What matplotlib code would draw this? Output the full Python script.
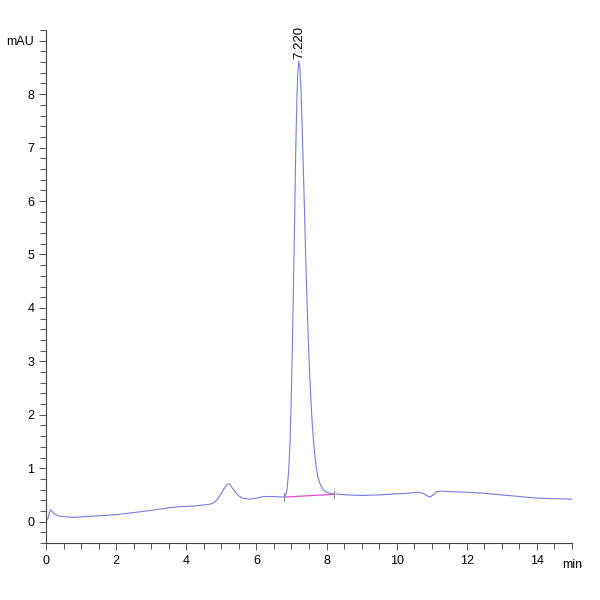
import matplotlib
matplotlib.use("Agg")
import matplotlib.pyplot as plt
import numpy as np

plt.rcParams['font.family'] = ['Liberation Sans Narrow', 'Liberation Sans', 'DejaVu Sans']

# chromatogram trace (min, mAU)
time_min = [0.0, 0.04, 0.08, 0.12, 0.16, 0.22, 0.3, 0.4, 0.55, 0.8, 1.0, 1.5, 2.0, 2.5,
            3.0, 3.5, 3.8, 4.2, 4.6, 4.7, 4.8, 4.9, 5.0, 5.1, 5.15, 5.2, 5.25, 5.3,
            5.4, 5.5, 5.6, 5.7, 5.8, 6.0, 6.2, 6.5, 6.75, 6.8, 6.85, 6.88, 6.92,
            6.96, 7.0, 7.03, 7.06, 7.09, 7.12, 7.15, 7.18, 7.21, 7.24, 7.27, 7.3,
            7.33, 7.36, 7.4, 7.44, 7.48, 7.52, 7.56, 7.6, 7.65, 7.7, 7.75, 7.8,
            7.9, 8.0, 8.1, 8.2, 8.6, 9.0, 9.5, 10.0, 10.3, 10.6, 10.75, 10.85,
            10.95, 11.05, 11.15, 11.25, 11.6, 12.0, 12.5, 13.0, 13.5, 14.0, 14.5,
            15.0]
mau = [0.02, 0.04, 0.14, 0.22, 0.2, 0.15, 0.12, 0.1, 0.09, 0.08, 0.09, 0.11, 0.13, 0.17,
       0.21, 0.26, 0.28, 0.29, 0.32, 0.33, 0.36, 0.43, 0.53, 0.64, 0.69, 0.71, 0.69, 0.64,
       0.55, 0.48, 0.44, 0.43, 0.42, 0.44, 0.47, 0.47, 0.46, 0.47, 0.52, 0.65, 0.95,
       1.5, 2.5, 3.4, 4.5, 5.7, 6.9, 7.8, 8.4, 8.62, 8.5, 8.1, 7.5,
       6.8, 6.1, 5.1, 4.2, 3.4, 2.75, 2.2, 1.75, 1.35, 1.05, 0.85, 0.73,
       0.6, 0.55, 0.53, 0.52, 0.5, 0.49, 0.5, 0.52, 0.53, 0.55, 0.53, 0.49,
       0.46, 0.5, 0.56, 0.57, 0.56, 0.55, 0.53, 0.5, 0.47, 0.44, 0.43,
       0.42]

# integration baseline of the main peak
base_t = [6.8, 8.2]
base_v = [0.46, 0.51]
peak_rt = 7.22
peak_h = 8.62
peak_label = "7.220"

fig = plt.figure(figsize=(6, 6), dpi=100)
ax = fig.add_axes([0.077, 0.095, 0.876, 0.855])

ax.plot(time_min, mau, color='#7b7be6', lw=0.8)
ax.plot(base_t, base_v, color='#e050d8', lw=0.9)
for t, v in zip(base_t, base_v):
    ax.plot([t, t], [v - 0.07, v + 0.07], color='#888888', lw=0.7)
ax.text(peak_rt, peak_h + 0.03, peak_label, rotation=90, ha='center', va='bottom',
        fontsize=9.5)

ax.set_xlim(0, 15)
ax.set_ylim(-0.4, 9.2)
for s in ['top', 'right']:
    ax.spines[s].set_visible(False)
for s in ['left', 'bottom']:
    ax.spines[s].set_color('#444444')
    ax.spines[s].set_linewidth(0.8)

ax.set_xticks(np.arange(0, 16, 2))
ax.set_xticklabels([str(v) for v in range(0, 16, 2)])
ax.set_xticks(np.arange(0, 15.01, 0.5), minor=True)
ax.set_yticks(np.arange(0, 10, 1))
ax.set_yticklabels([str(v) for v in range(0, 9)] + ['mAU'])
ax.set_yticks(np.arange(-0.4, 9.21, 0.2), minor=True)
ax.tick_params(which='major', length=5, width=0.7, color='#555555', labelsize=9)
ax.tick_params(which='minor', length=4, width=0.7, color='#555555')
ax.text(15, -0.4 - 0.3, 'min', ha='center', va='top', fontsize=9)

fig.savefig('out.png', dpi=100)
